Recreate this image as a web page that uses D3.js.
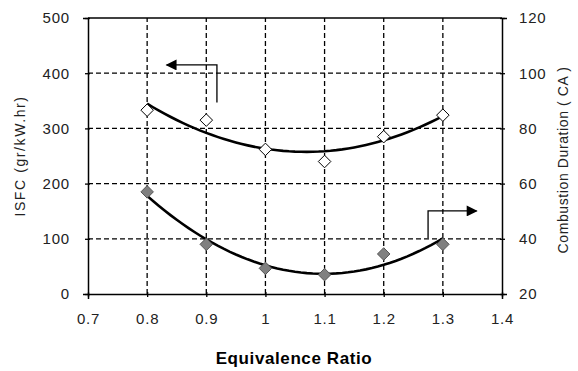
<!DOCTYPE html>
<html>
<head>
<meta charset="utf-8">
<script src="https://cdn.jsdelivr.net/npm/d3@7"></script>
<style>
  body { margin: 0; background: #fff; }
  text { font-family: Arial, "Liberation Sans", sans-serif; fill: #222; }
  .tick text { font-size: 15px; letter-spacing: 0.8px; }
  .label { font-size: 14px; }
  .xlabel { font-size: 17px; font-weight: bold; fill: #000; letter-spacing: 0.6px; }
</style>
</head>
<body>
<div id="chart"></div>
<script>
var width = 578;
var height = 371;
var margin = {left: 88, right: 76, top: 18, bottom: 77};

// data
var ratio = [0.8, 0.9, 1.0, 1.1, 1.2, 1.3];
var isfc = [333, 315, 262, 240, 285, 324];          // left axis, open diamonds
var duration = [57, 38, 29.3, 27, 34.5, 38];       // right axis, grey diamonds

var xTicks = [0.7, 0.8, 0.9, 1.0, 1.1, 1.2, 1.3, 1.4];
var leftTicks = [0, 100, 200, 300, 400, 500];
var rightTicks = [20, 40, 60, 80, 100, 120];

// arrows pointing to the axis each series belongs to (data units)
var isfcArrow = [[0.918, 347], [0.918, 415], [0.833, 415]];
var durArrow = [[1.275, 40.3], [1.275, 50.1], [1.357, 50.1]];

var x = d3.scaleLinear().domain([0.7, 1.4]).range([margin.left, width - margin.right]);
var yL = d3.scaleLinear().domain([0, 500]).range([height - margin.bottom, margin.top]);
var yR = d3.scaleLinear().domain([20, 120]).range([height - margin.bottom, margin.top]);

// least squares 2nd order trend, like the spreadsheet trendline
function quadFit(xs, ys) {
  var n = xs.length, s = [0, 0, 0, 0, 0], t = [0, 0, 0];
  for (var i = 0; i < n; i++) {
    var p = 1;
    for (var k = 0; k < 5; k++) { s[k] += p; if (k < 3) t[k] += p * ys[i]; p *= xs[i]; }
  }
  var A = [[s[0], s[1], s[2], t[0]], [s[1], s[2], s[3], t[1]], [s[2], s[3], s[4], t[2]]];
  for (var c = 0; c < 3; c++) {
    for (var r = c + 1; r < 3; r++) {
      var f = A[r][c] / A[c][c];
      for (var j = c; j < 4; j++) A[r][j] -= f * A[c][j];
    }
  }
  var b = [0, 0, 0];
  for (var r2 = 2; r2 >= 0; r2--) {
    var v = A[r2][3];
    for (var j2 = r2 + 1; j2 < 3; j2++) v -= A[r2][j2] * b[j2];
    b[r2] = v / A[r2][r2];
  }
  return function (xv) { return b[0] + b[1] * xv + b[2] * xv * xv; };
}

var svg = d3.select("#chart").append("svg")
  .attr("width", width).attr("height", height);

// grid
var grid = svg.append("g").attr("stroke", "#000").attr("stroke-width", 1.3)
  .attr("stroke-dasharray", "5,3");
grid.selectAll(".vg").data(ratio).enter().append("line")
  .attr("x1", d => x(d)).attr("x2", d => x(d))
  .attr("y1", yL(0)).attr("y2", yL(500));
grid.selectAll(".hg").data(leftTicks.slice(1, -1)).enter().append("line")
  .attr("x1", x(0.7)).attr("x2", x(1.4))
  .attr("y1", d => yL(d)).attr("y2", d => yL(d));

// top border
svg.append("line").attr("x1", x(0.7)).attr("x2", x(1.4))
  .attr("y1", yL(500)).attr("y2", yL(500)).attr("stroke", "#000").attr("stroke-width", 1.3);

// axes
var xaxis = d3.axisBottom(x).tickValues(xTicks)
  .tickFormat(d => d3.format("")(+d.toFixed(1))).tickSizeOuter(0).tickSize(5).tickPadding(14);
var ylaxis = d3.axisLeft(yL).tickValues(leftTicks).tickSizeOuter(0).tickSize(5).tickPadding(13);
var yraxis = d3.axisRight(yR).tickValues(rightTicks).tickSizeOuter(0).tickSize(5).tickPadding(12);

function styleAxis(g, dx, dy) {
  g.select(".domain").attr("stroke", "#000").attr("stroke-width", 1.5);
  g.selectAll(".tick line").attr("stroke", "#000").attr("stroke-width", 1.3)
    .attr("transform", "translate(" + dx + "," + dy + ")");
}

svg.append("g").attr("transform", "translate(0," + yL(0) + ")").call(xaxis)
  .call(g => styleAxis(g, 0, -2));
svg.append("g").attr("transform", "translate(" + x(0.7) + ",0)").call(ylaxis)
  .call(g => styleAxis(g, 2, 0));
svg.append("g").attr("transform", "translate(" + x(1.4) + ",0)").call(yraxis)
  .call(g => styleAxis(g, -2, 0));

// trend lines
var fitI = quadFit(ratio, isfc);
var fitD = quadFit(ratio, duration);
var xs = d3.range(0.8, 1.3001, 0.01);

svg.append("path").datum(xs)
  .attr("fill", "none").attr("stroke", "#000").attr("stroke-width", 2.6)
  .attr("d", d3.line().x(d => x(d)).y(d => yL(fitI(d))));
svg.append("path").datum(xs)
  .attr("fill", "none").attr("stroke", "#000").attr("stroke-width", 2.6)
  .attr("d", d3.line().x(d => x(d)).y(d => yR(fitD(d))));

// markers
var diamond = d3.symbol().type(d3.symbolDiamond2).size(100);
svg.selectAll(".pi").data(ratio).enter().append("path")
  .attr("d", diamond)
  .attr("transform", (d, i) => "translate(" + x(d) + "," + yL(isfc[i]) + ")")
  .attr("fill", "#fff").attr("stroke", "#000").attr("stroke-width", 1);
svg.selectAll(".pd").data(ratio).enter().append("path")
  .attr("d", diamond)
  .attr("transform", (d, i) => "translate(" + x(d) + "," + yR(duration[i]) + ")")
  .attr("fill", "#808080").attr("stroke", "#555").attr("stroke-width", 1);

// arrows
svg.append("defs").append("marker")
  .attr("id", "head").attr("viewBox", "0 0 10 10")
  .attr("refX", 9).attr("refY", 5)
  .attr("markerWidth", 15).attr("markerHeight", 11)
  .attr("markerUnits", "userSpaceOnUse")
  .attr("orient", "auto")
  .append("path").attr("d", "M0,0L10,5L0,10z").attr("fill", "#000");

svg.append("path").datum(isfcArrow)
  .attr("fill", "none").attr("stroke", "#000").attr("stroke-width", 1.3)
  .attr("marker-end", "url(#head)")
  .attr("d", d3.line().x(d => x(d[0])).y(d => yL(d[1])));
svg.append("path").datum(durArrow)
  .attr("fill", "none").attr("stroke", "#000").attr("stroke-width", 1.3)
  .attr("marker-end", "url(#head)")
  .attr("d", d3.line().x(d => x(d[0])).y(d => yR(d[1])));

// axis titles
svg.append("text").attr("class", "label")
  .attr("transform", "translate(25," + ((yL(0) + yL(500)) / 2) + ") rotate(-90)")
  .attr("text-anchor", "middle")
  .attr("letter-spacing", "1.6px")
  .text("ISFC (gr/kW.hr)");
svg.append("text").attr("class", "label")
  .attr("transform", "translate(568," + ((yR(20) + yR(120)) / 2 + 4) + ") rotate(-90)")
  .attr("text-anchor", "middle")
  .attr("letter-spacing", "0.6px")
  .text("Combustion Duration ( CA )");
svg.append("text").attr("class", "xlabel")
  .attr("x", 294).attr("y", 364)
  .attr("text-anchor", "middle")
  .text("Equivalence Ratio");
</script>
</body>
</html>
